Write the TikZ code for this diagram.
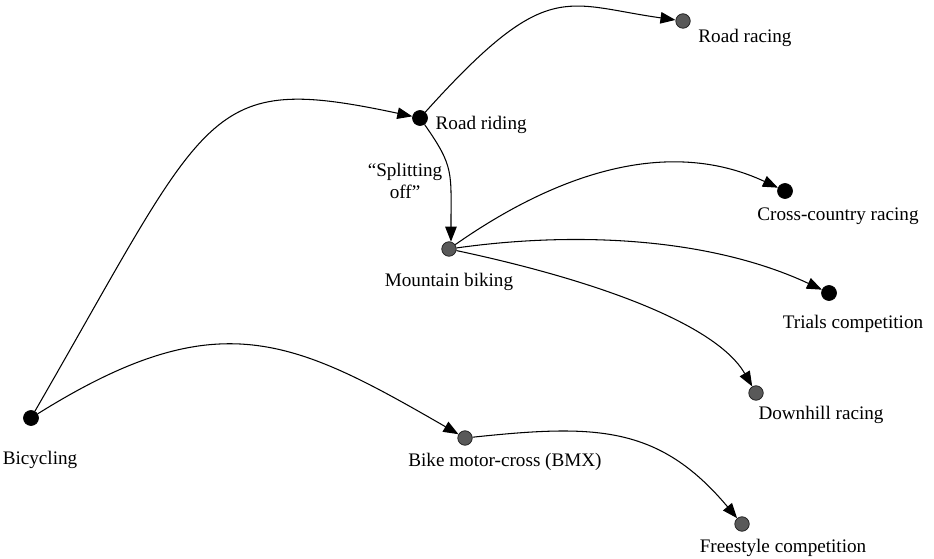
\documentclass[tikz,border=0pt]{standalone}
\usepackage{fontspec}
\setmainfont{Liberation Serif}
\usepackage{tikz}
\usetikzlibrary{arrows.meta,positioning}

\begin{document}
\begin{tikzpicture}[
  font=\fontsize{10.9}{13}\selectfont,
  blackdot/.style={circle, draw=black, fill=black, inner sep=0pt,
    minimum size=0.3cm},
  graydot/.style={circle, draw=black!90, fill=black!65, inner sep=0pt,
    minimum size=0.29cm},
  branch/.style={-{Triangle[length=3mm,width=2.3mm]}, line width=0.6pt},
  tag/.style={inner sep=0pt, text height=1.6ex, text depth=0.45ex}
]
  \useasboundingbox (0,0) rectangle (18.68,-11.18);

  \node[blackdot] (bicycling) at (0.62,-8.36) {};
  \node[blackdot] (riding) at (8.4,-2.36) {};
  \node[graydot] (racing) at (13.66,-0.42) {};
  \node[graydot] (mountain) at (8.98,-4.98) {};
  \node[blackdot] (xcountry) at (15.7,-3.82) {};
  \node[blackdot] (trials) at (16.58,-5.86) {};
  \node[graydot] (downhill) at (15.12,-7.86) {};
  \node[graydot] (bmx) at (9.3,-8.76) {};
  \node[graydot] (freestyle) at (14.84,-10.48) {};

  \node[tag, below=0.5cm of bicycling, xshift=0.18cm] (bicyclinglbl) {Bicycling};
  \node[tag, right=0.15cm of riding, yshift=-0.14cm] (ridinglbl) {Road riding};
  \node[tag, right=0.15cm of racing, yshift=-0.34cm] (racinglbl) {Road racing};
  \node[tag, below=0.34cm of mountain] (mountainlbl) {Mountain biking};
  \node[tag, below=0.16cm of xcountry, xshift=1.06cm] (xcountrylbl) {Cross-country racing};
  \node[tag, below=0.28cm of trials, xshift=0.48cm] (trialslbl) {Trials competition};
  \node[tag, below=0.12cm of downhill, xshift=1.3cm] (downhilllbl) {Downhill racing};
  \node[tag, below=0.16cm of bmx, xshift=0.8cm] (bmxlbl) {Bike motor-cross (BMX)};
  \node[tag, below=0.16cm of freestyle, xshift=0.82cm] (freestylelbl) {Freestyle competition};
  \node[align=center, inner sep=0pt] (splitlbl) at (8.1,-3.62) {``Splitting\\off''};

  \draw[branch] (bicycling) .. controls +(60:7.2cm) and +(168:4.4cm) .. (riding);
  \draw[branch] (bicycling) .. controls +(32:4.4cm) and +(150:4cm) .. (bmx);
  \draw[branch] (riding) .. controls +(48:3.8cm) and +(172:2.4cm) .. (racing);
  \draw[branch] (riding) .. controls +(-55:1.2cm) and +(90:1.4cm) .. (mountain.75);
  \draw[branch] (mountain) .. controls +(35:2.6cm) and +(155:2.6cm) .. (xcountry);
  \draw[branch] (mountain) .. controls +(8:2.6cm) and +(155:2.6cm) .. (trials);
  \draw[branch] (mountain) .. controls +(-12:3cm) and +(120:1.6cm) .. (downhill);
  \draw[branch] (bmx) .. controls +(6:2.6cm) and +(130:2.6cm) .. (freestyle);
\end{tikzpicture}
\end{document}
